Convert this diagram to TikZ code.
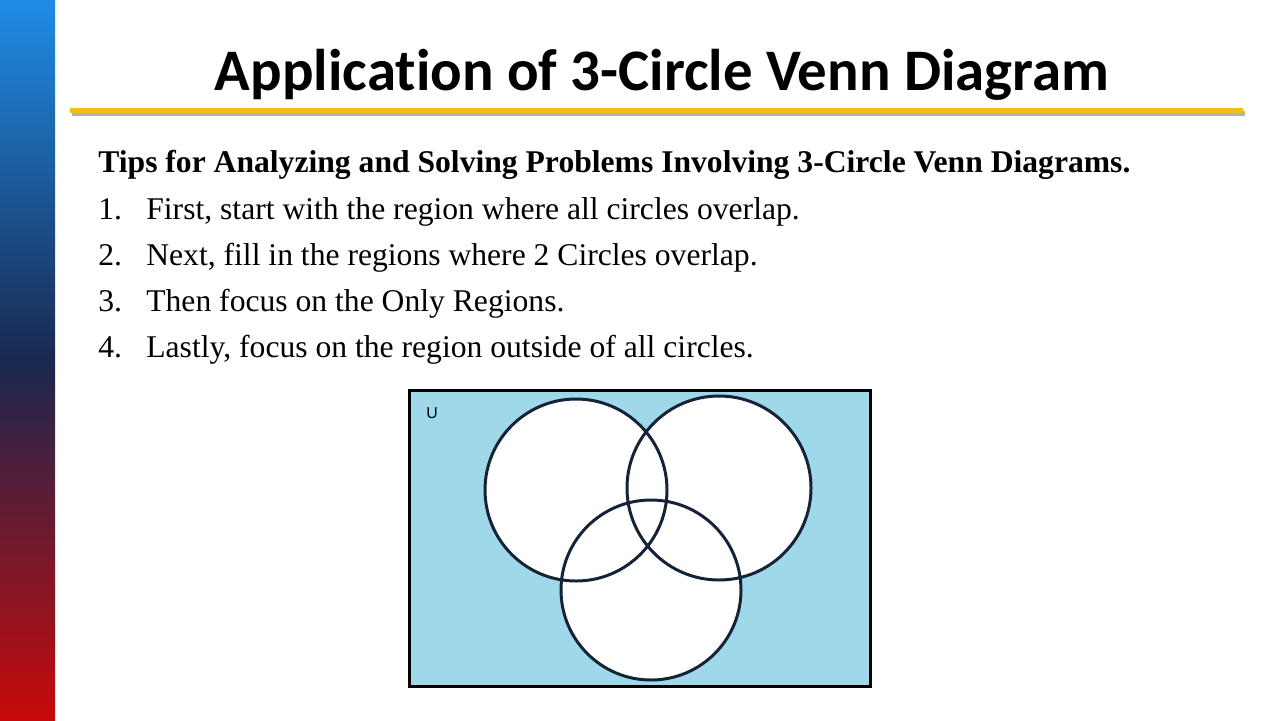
\documentclass[tikz,border=0pt]{standalone}
\usepackage{fontspec}
\setmainfont{Liberation Serif}
\newfontfamily\titlefont[Ligatures=NoCommon]{Carlito}
\newfontfamily\ufont{Liberation Sans}
\definecolor{barblue}{RGB}{30,140,230}
\definecolor{barnavy}{RGB}{25,40,80}
\definecolor{barred}{RGB}{200,10,10}
\definecolor{vennblue}{RGB}{159,217,233}
\definecolor{circleline}{RGB}{20,35,55}
\definecolor{ruleyellow}{RGB}{240,190,20}
\begin{document}
\begin{tikzpicture}[x=0.02cm,y=-0.02cm,
		tip/.style={anchor=base west, inner sep=0pt, font=\fontsize{18}{20}\selectfont},
		venn/.style={draw=circleline, line width=1.7pt, fill=white}
		]
		\useasboundingbox (0,0) rectangle (1280,720);
		\fill[white] (0,0) rectangle (1280,720);
		
		% Side bar
		\shade[top color=barblue, bottom color=barred, middle color=barnavy] (0,0) rectangle (55,720);
		
		% Title
		\node[font=\titlefont\bfseries\fontsize{33.5}{36}\selectfont] (title) at (662,75) {Application of 3-Circle Venn Diagram};
		\fill[gray!60] (72,111) rectangle (1245,116);
		\fill[ruleyellow] (70,108) rectangle (1243,113);
		
		% Tips
		\node[tip, font=\bfseries\fontsize{18}{20}\selectfont] (head) at (98,172) {Tips for Analyzing and Solving Problems Involving 3-Circle Venn Diagrams.};
		\foreach \n/\y/\t in {1/219/{First, start with the region where all circles overlap.},
			2/265/{Next, fill in the regions where 2 Circles overlap.},
			3/311/{Then focus on the Only Regions.},
			4/357/{Lastly, focus on the region outside of all circles.}}
		{
			\node[tip] (num\n) at (98,\y) {\n.};
			\node[tip] (tip\n) at (146,\y) {\t};
		}
		
		% Venn diagram
		\draw[fill=vennblue, line width=1.7pt] (409,390) rectangle (870,686);
		\node[font=\ufont\small] (U) at (432,413) {U};
		\fill[white] (576,490) circle (91);
		\fill[white] (719,488) circle (92);
		\fill[white] (651,590) circle (90);
		\draw[circleline, line width=1.7pt] (576,490) circle (91) (719,488) circle (92) (651,590) circle (90);
		
	\end{tikzpicture}
\end{document}
